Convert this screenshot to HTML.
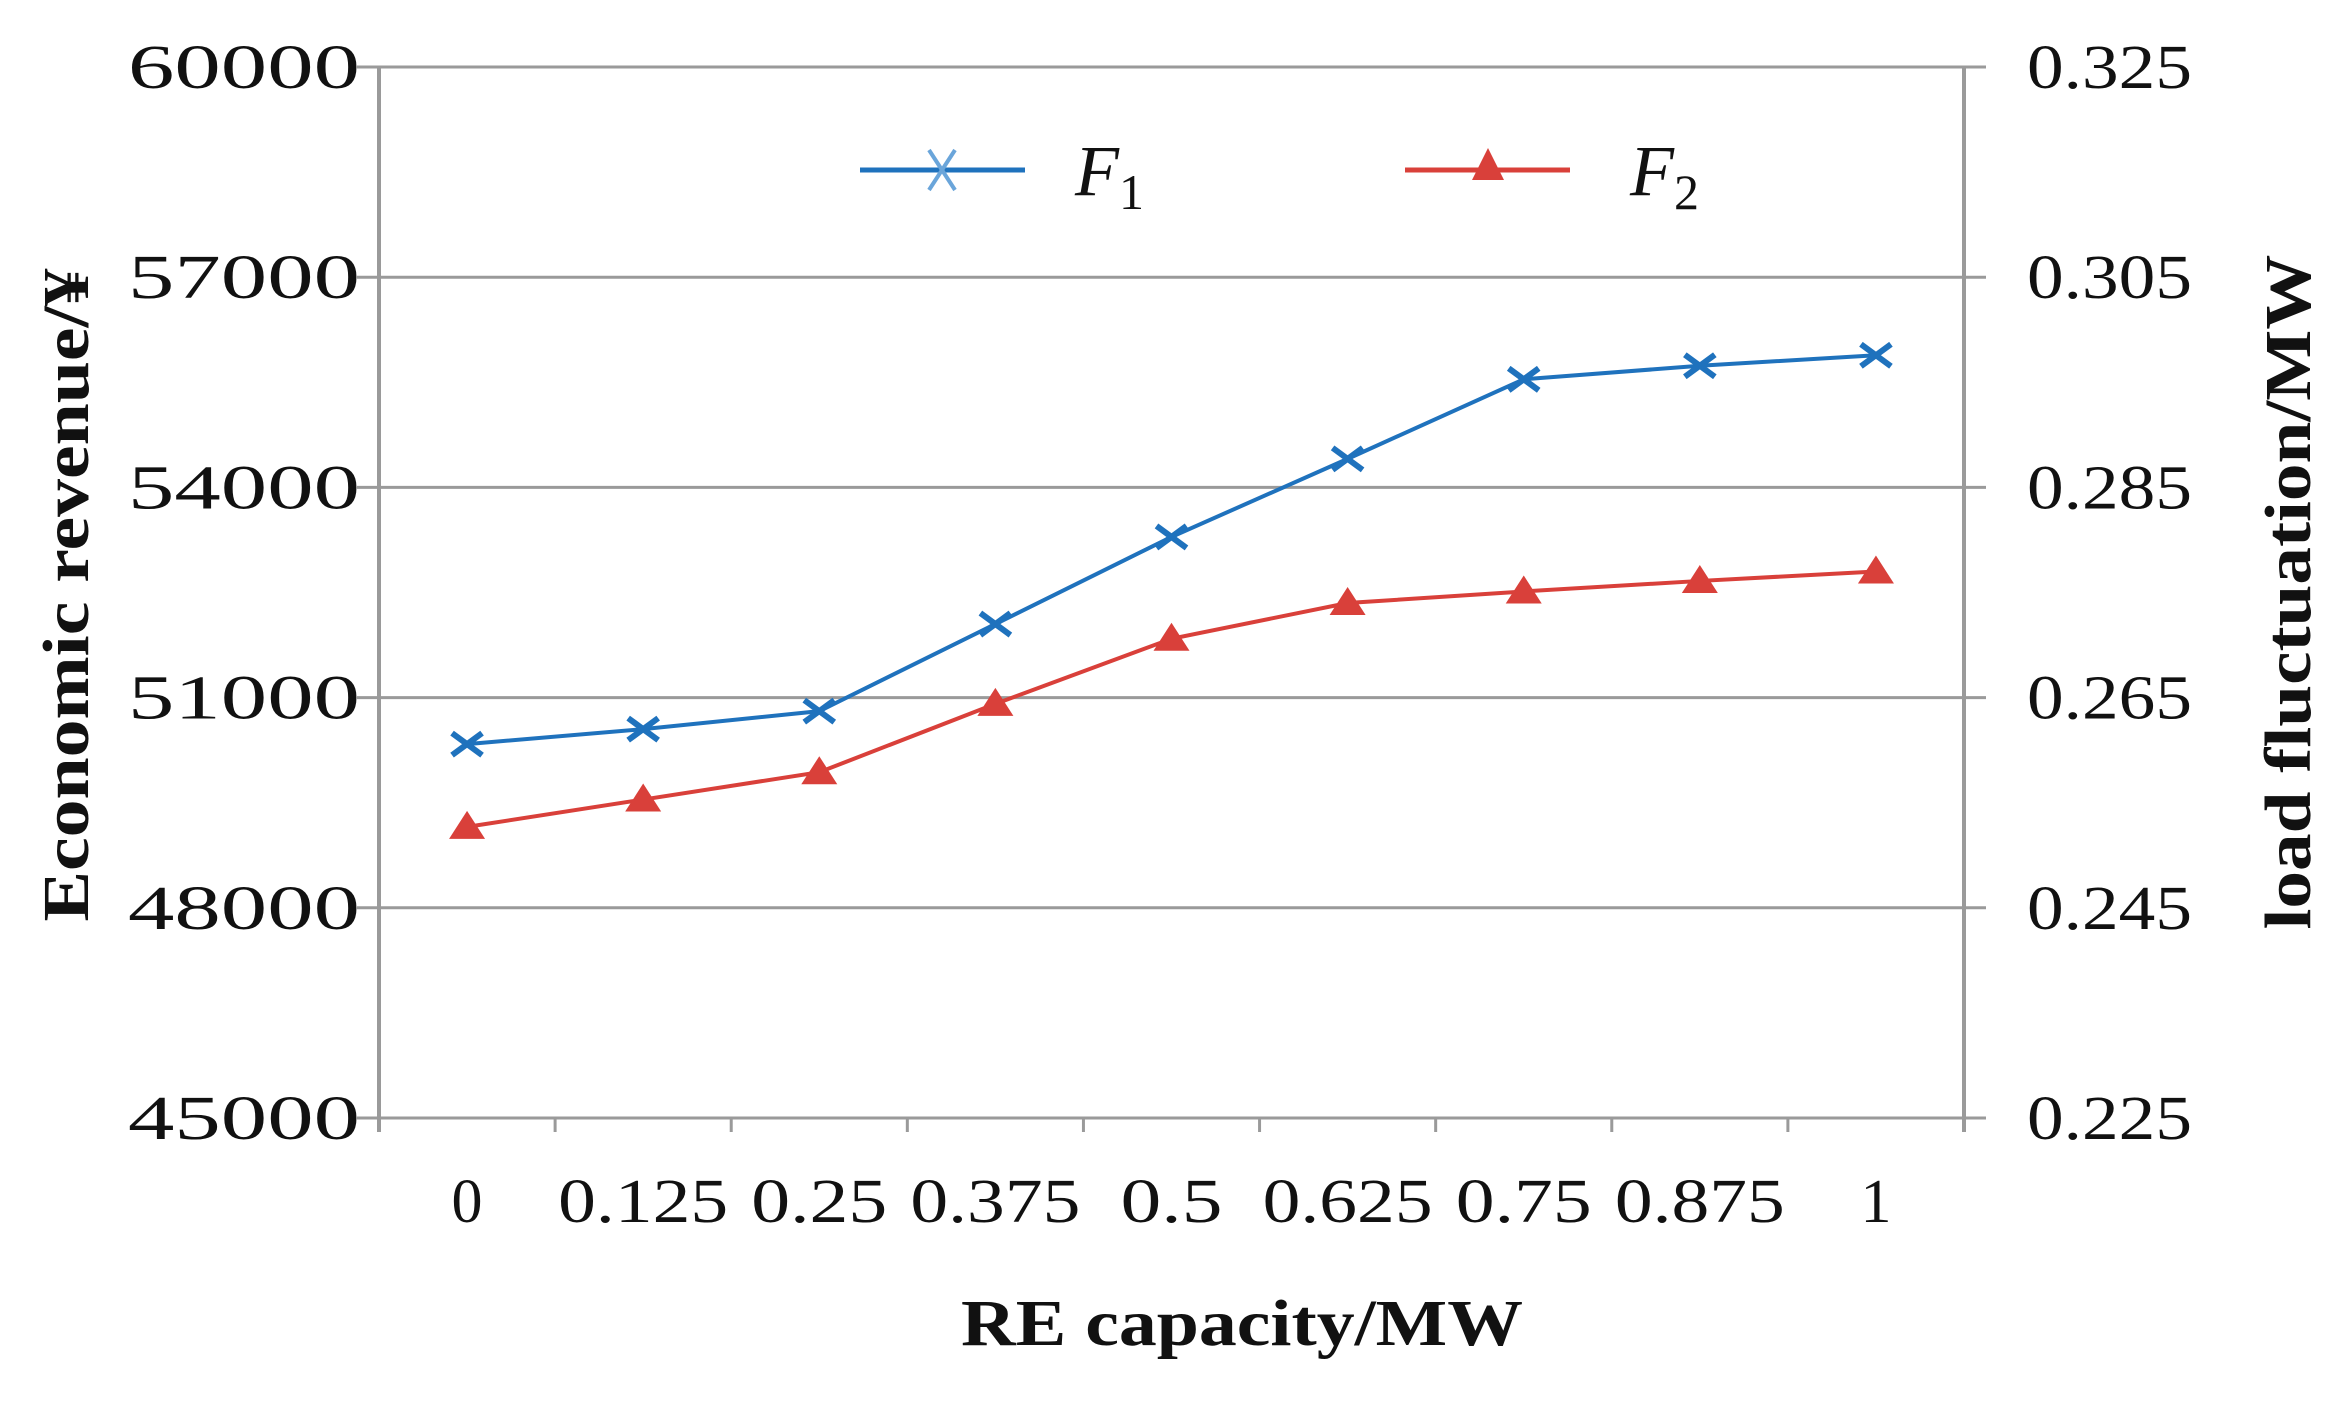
<!DOCTYPE html>
<html><head><meta charset="utf-8">
<style>
html,body{margin:0;padding:0;background:#fff;}
svg{display:block;}
text{font-family:"Liberation Serif",serif;fill:#111;}
</style></head>
<body>
<svg id="chart" width="2339" height="1401" viewBox="0 0 2339 1401" xmlns="http://www.w3.org/2000/svg">
<g id="grid"></g>
<g id="axes"></g>
<g id="series"></g>
<text x="1242" y="1345" text-anchor="middle" font-size="66" font-weight="bold" textLength="562" lengthAdjust="spacingAndGlyphs">RE capacity/MW</text>
<text transform="translate(88,595) rotate(-90)" text-anchor="middle" font-size="66" font-weight="bold" textLength="653" lengthAdjust="spacingAndGlyphs">Economic revenue/¥</text>
<text transform="translate(2310,592) rotate(-90)" text-anchor="middle" font-size="66" font-weight="bold" textLength="675" lengthAdjust="spacingAndGlyphs">load fluctuation/MW</text>
<g>
  <line x1="860" y1="170" x2="1025" y2="170" stroke="#1f72bd" stroke-width="5"/>
  <path d="M929 150 L955 190 M955 150 L929 190" stroke="#6aa5da" stroke-width="4"/>
  <text x="1075" y="195" font-size="72" font-style="italic">F<tspan font-size="50" font-style="normal" dy="14">1</tspan></text>
  <line x1="1405" y1="170" x2="1570" y2="170" stroke="#d9403a" stroke-width="5"/>
  <path d="M1488 148 L1504 180 L1472 180 Z" fill="#d9403a"/>
  <text x="1630" y="195" font-size="72" font-style="italic">F<tspan font-size="50" font-style="normal" dy="14">2</tspan></text>
</g>
</svg>
<script>
const categories = ["0","0.125","0.25","0.375","0.5","0.625","0.75","0.875","1"];
const f1Values = [50336,50550,50807,52050,53293,54407,55543,55736,55886];
const f2Values = [0.2527,0.2553,0.2579,0.2644,0.2706,0.2740,0.2751,0.2761,0.2770];
const leftTicks = [45000,48000,51000,54000,57000,60000];
const rightTicks = ["0.225","0.245","0.265","0.285","0.305","0.325"];

const NS="http://www.w3.org/2000/svg";
const L=379,R=1964,T=67,B=1118;
const cw=(R-L)/categories.length;
function xPos(i){return L+cw*(i+0.5);}
function yLeft(v){return B-(v-45000)/(60000-45000)*(B-T);}
function yRight(v){return B-(v-0.225)/(0.325-0.225)*(B-T);}
function mk(tag,attrs,parent){const e=document.createElementNS(NS,tag);for(const k in attrs)e.setAttribute(k,attrs[k]);parent.appendChild(e);return e;}
const grid=document.getElementById('grid'),axes=document.getElementById('axes'),series=document.getElementById('series'),svg=document.getElementById('chart');

leftTicks.forEach((t,i)=>{
  const y=yLeft(t);
  const gl=mk('line',{x1:L-22,x2:R+22,y1:y,y2:y,stroke:'#9a9a9a','stroke-width':3},grid);
  
  
  const tl=mk('text',{x:360,y:y+21,'text-anchor':'end','font-size':62,textLength:232,lengthAdjust:'spacingAndGlyphs'},svg);
  tl.textContent=String(t);
  
  
  const tr=mk('text',{x:2027,y:y+21,'text-anchor':'start','font-size':62,textLength:165,lengthAdjust:'spacingAndGlyphs'},svg);
  tr.textContent=rightTicks[i];
  
  
});
const la=mk('line',{x1:L,x2:L,y1:T,y2:B+14,stroke:'#9a9a9a','stroke-width':4},axes);


const ra=mk('line',{x1:R,x2:R,y1:T,y2:B+14,stroke:'#9a9a9a','stroke-width':4},axes);


for(let i=0;i<=categories.length;i++){
  const x=L+cw*i;
  const tk=mk('line',{x1:x,x2:x,y1:B,y2:B+14,stroke:'#9a9a9a','stroke-width':3},axes);
  
  
}
categories.forEach((c,i)=>{
  const attrs={x:xPos(i),y:1222,'text-anchor':'middle','font-size':62};
  if(c.length>1){attrs.textLength=Math.round(c.length*34);attrs.lengthAdjust='spacingAndGlyphs';}
  const t=mk('text',attrs,svg);
  t.textContent=c;
  
  
});
// F1
const p1=mk('polyline',{points:f1Values.map((v,i)=>xPos(i)+','+yLeft(v)).join(' '),fill:'none',stroke:'#1f72bd','stroke-width':4},series);


f1Values.forEach((v,i)=>{
  const x=xPos(i),y=yLeft(v);
  const m=mk('path',{d:`M${x-15} ${y-11} L${x+15} ${y+11} M${x+15} ${y-11} L${x-15} ${y+11}`,stroke:'#1f72bd','stroke-width':6},series);
  
  
});
// F2
const p2=mk('polyline',{points:f2Values.map((v,i)=>xPos(i)+','+yRight(v)).join(' '),fill:'none',stroke:'#d9403a','stroke-width':4},series);


f2Values.forEach((v,i)=>{
  const x=xPos(i),y=yRight(v);
  const m=mk('path',{d:`M${x} ${y-16} L${x+18} ${y+12} L${x-18} ${y+12} Z`,fill:'#d9403a'},series);
  
  
});
</script>
</body></html>
